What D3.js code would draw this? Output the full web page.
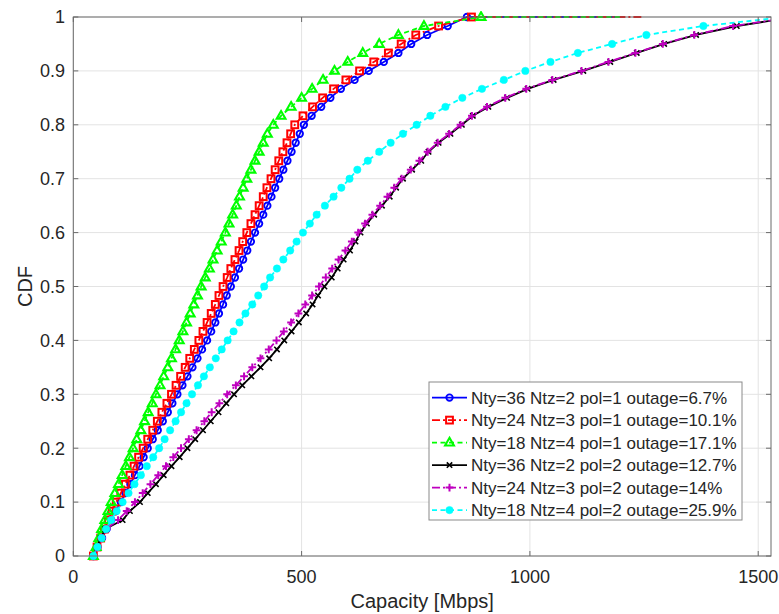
<!DOCTYPE html>
<html><head><meta charset="utf-8">
<script src="https://d3js.org/d3.v7.min.js"></script>
<style>body{margin:0;background:#fff}svg{display:block}text{font-family:"Liberation Sans",Arial,sans-serif;fill:#262626}</style>
</head><body><svg id="c" width="779" height="614"></svg>
<script>
// ---- data ----
const cdfLevels = [0,0.0167,0.0333,0.05,0.0667,0.0833,0.1,0.1167,0.1333,0.15,0.1667,0.1833,0.2,0.2167,0.2333,0.25,0.2667,0.2833,0.3,0.3167,0.3333,0.35,0.3667,0.3833,0.4,0.4167,0.4333,0.45,0.4667,0.4833,0.5,0.5167,0.5333,0.55,0.5667,0.5833,0.6,0.6167,0.6333,0.65,0.6667,0.6833,0.7,0.7167,0.7333,0.75,0.7667,0.7833,0.8,0.8167,0.8333,0.85,0.8667,0.8833,0.9,0.9167,0.9333,0.95,0.9667,0.9833,1];
const seriesNames = ["Nty=36 Ntz=2 pol=1 outage=6.7%","Nty=24 Ntz=3 pol=1 outage=10.1%","Nty=18 Ntz=4 pol=1 outage=17.1%","Nty=36 Ntz=2 pol=2 outage=12.7%","Nty=24 Ntz=3 pol=2 outage=14%","Nty=18 Ntz=4 pol=2 outage=25.9%"];
const capNty36pol1 = [44,53,63,73,83,93,104,114,125,135,145,154,163,174,185,196,207,217,228,239,250,261,272,282,293,302,311,319,328,336,345,354,363,372,381,389,398,407,416,425,434,442,451,460,469,478,487,496,505,522,543,563,586,616,647,680,712,740,775,820,862];
const capNty24pol1 = [44,52,60,68,77,85,94,104,114,124,133,143,153,163,174,184,194,205,215,225,235,245,255,265,275,284,293,302,311,319,328,337,345,354,363,371,380,389,398,407,416,424,433,442,450,459,468,476,485,503,524,546,570,597,627,658,690,718,750,800,872];
const capNty18pol1 = [44,50,56,62,69,76,83,91,99,107,115,123,131,139,148,156,164,173,181,190,198,207,215,224,232,240,248,256,264,272,280,289,298,306,315,324,333,341,349,357,364,372,380,389,398,407,416,425,438,455,477,500,523,547,572,601,634,670,712,768,893];
const capNty36pol2 = [44,52,60,70,108,124,146,163,181,198,215,233,250,267,284,301,318,335,352,370,390,410,429,446,462,478,494,510,524,536,550,566,579,592,606,618,629,643,659,676,693,707,722,742,762,778,800,826,851,875,909,950,995,1052,1117,1176,1234,1294,1364,1453,1580];
const capNty24pol2 = [44,53,62,73,98,117,135,152,169,186,203,219,236,253,270,287,303,320,337,356,374,392,410,428,445,461,477,493,508,523,538,553,567,581,596,610,624,639,655,672,688,703,719,739,758,776,798,823,848,873,906,946,992,1049,1113,1172,1231,1291,1360,1445,1578];
const capNty18pol2 = [44,53,62,72,83,95,108,121,134,148,161,175,188,200,212,224,236,248,260,273,286,299,312,325,338,351,364,377,392,405,418,431,446,460,475,489,503,518,533,551,570,587,605,622,645,670,695,722,752,782,815,852,895,943,990,1045,1105,1180,1255,1380,1560];
const tailEnd = [1197,1244,1200,null,null,null]; // flat CDF=1 continuation
const xTicks = [0,500,1000,1500];
const yTicks = [0,0.1,0.2,0.3,0.4,0.5,0.6,0.7,0.8,0.9,1];
const xLabel = "Capacity [Mbps]", yLabel = "CDF";

// ---- styles ----
const capData = [capNty36pol1,capNty24pol1,capNty18pol1,capNty36pol2,capNty24pol2,capNty18pol2];
const colors = ["#0000ff","#ff0000","#00ff00","#000000","#bf00bf","#00ffff"];
const dashes = [null,"8,3,2,3","5,3.5",null,"8,3,2,3","5,3.5"];
const markers = ["circle","square","triangle","x","plus","dot"];

const svg = d3.select("#c");
const L=73.3,R=771,T=17,B=556;
const x = d3.scaleLinear().domain([0,1528]).range([L,R]);
const y = d3.scaleLinear().domain([0,1]).range([B,T]);

// grid
const g = svg.append("g");
g.selectAll(".gx").data(xTicks).enter().append("line")
 .attr("x1",d=>x(d)).attr("x2",d=>x(d)).attr("y1",T).attr("y2",B).attr("stroke","#e3e3e3").attr("stroke-width",1);
g.selectAll(".gy").data(yTicks).enter().append("line")
 .attr("y1",d=>y(d)).attr("y2",d=>y(d)).attr("x1",L).attr("x2",R).attr("stroke","#e3e3e3").attr("stroke-width",1);

svg.append("defs").append("clipPath").attr("id","clip").append("rect")
 .attr("x",L).attr("y",T-6).attr("width",R-L).attr("height",B-T+12);

function drawMarker(sel, type, color){
  if(type==="circle") sel.append("circle").attr("r",3.2).attr("fill","none").attr("stroke",color).attr("stroke-width",1.9);
  else if(type==="square") sel.append("rect").attr("x",-3.4).attr("y",-3.4).attr("width",6.8).attr("height",6.8).attr("fill","none").attr("stroke",color).attr("stroke-width",2);
  else if(type==="triangle") sel.append("path").attr("d","M0,-4.8L4.4,2.9L-4.4,2.9Z").attr("fill","none").attr("stroke",color).attr("stroke-width",2.1);
  else if(type==="x") sel.append("path").attr("d","M-2.7,-2.7L2.7,2.7M-2.7,2.7L2.7,-2.7").attr("stroke",color).attr("stroke-width",1.6);
  else if(type==="plus") sel.append("path").attr("d","M-3.9,0L3.9,0M0,-3.9L0,3.9").attr("stroke",color).attr("stroke-width",2);
  else if(type==="dot") sel.append("circle").attr("r",3.7).attr("fill",color).attr("stroke",color).attr("stroke-width",0.5);
}

const plot = svg.append("g").attr("clip-path","url(#clip)");
const line = d3.line().x(d=>x(d[0])).y(d=>y(d[1]));
capData.forEach((arr,i)=>{
  const pts = arr.map((v,k)=>[v,cdfLevels[k]]);
  const linePts = tailEnd[i] ? pts.concat([[tailEnd[i],1]]) : pts;
  const sg = plot.append("g");
  sg.append("path").datum(linePts).attr("d",line).attr("fill","none")
    .attr("stroke",colors[i]).attr("stroke-width",1.8).attr("stroke-dasharray",dashes[i]);
  pts.forEach(p=>{
    const m = sg.append("g").attr("transform",`translate(${x(p[0])},${y(p[1])})`);
    drawMarker(m, markers[i], colors[i]);
  });
});

// axes box
const ax = svg.append("g");
const axc = "#6a6a6a";
ax.append("rect").attr("x",L).attr("y",T).attr("width",R-L).attr("height",B-T).attr("fill","none").attr("stroke",axc).attr("stroke-width",1);
xTicks.forEach(t=>{
  ax.append("line").attr("x1",x(t)).attr("x2",x(t)).attr("y1",B).attr("y2",B-5).attr("stroke",axc);
  ax.append("line").attr("x1",x(t)).attr("x2",x(t)).attr("y1",T).attr("y2",T+5).attr("stroke",axc);
  ax.append("text").attr("x",x(t)).attr("y",583).attr("text-anchor","middle").attr("font-size",18).text(t);
});
yTicks.forEach(t=>{
  ax.append("line").attr("y1",y(t)).attr("y2",y(t)).attr("x1",L).attr("x2",L+5).attr("stroke",axc);
  ax.append("line").attr("y1",y(t)).attr("y2",y(t)).attr("x1",R).attr("x2",R-5).attr("stroke",axc);
  ax.append("text").attr("x",65).attr("y",y(t)).attr("dy","0.35em").attr("text-anchor","end").attr("font-size",18).text(d3.format("")(+t.toFixed(1)));
});
ax.append("text").attr("x",(L+R)/2).attr("y",608).attr("text-anchor","middle").attr("font-size",20).text(xLabel);
ax.append("text").attr("transform",`translate(32,${(T+B)/2}) rotate(-90)`).attr("text-anchor","middle").attr("font-size",20).text(yLabel);

// legend
const lg = svg.append("g");
lg.append("rect").attr("x",429).attr("y",382).attr("width",313).attr("height",138).attr("fill","#fff").attr("stroke","#8a8a8a").attr("stroke-width",1);
seriesNames.forEach((n,i)=>{
  const cy = 397.6 + i*22.5;
  lg.append("line").attr("x1",432).attr("x2",467).attr("y1",cy).attr("y2",cy).attr("stroke",colors[i]).attr("stroke-width",1.8).attr("stroke-dasharray",dashes[i]);
  const m = lg.append("g").attr("transform",`translate(449.5,${cy})`);
  drawMarker(m, markers[i], colors[i]);
  lg.append("text").attr("x",471).attr("y",cy).attr("dy","0.36em").attr("font-size",17).text(n);
});
</script></body></html>
